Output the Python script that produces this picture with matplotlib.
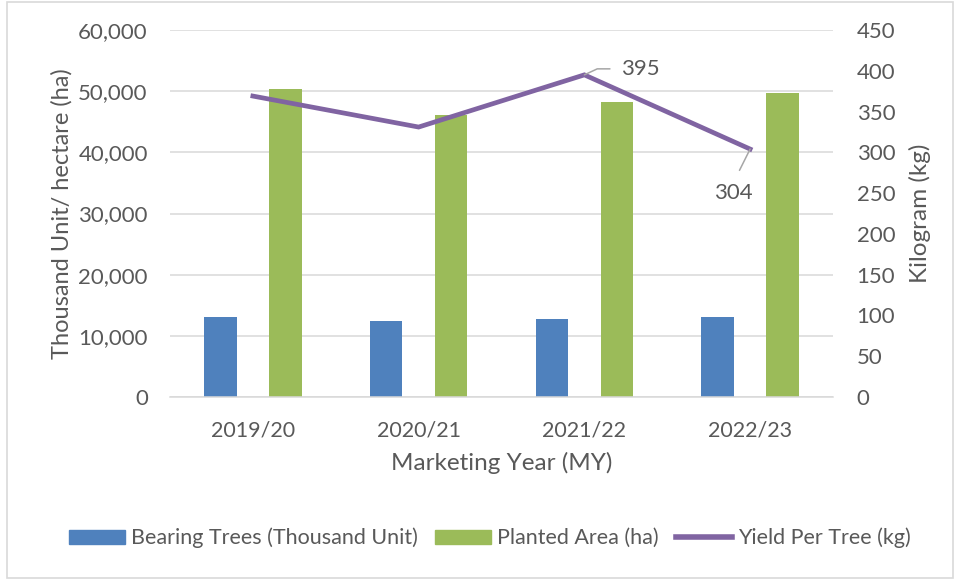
import matplotlib
matplotlib.use("Agg")
import matplotlib.pyplot as plt
import numpy as np
from matplotlib.ticker import FuncFormatter, MultipleLocator
from matplotlib.patches import Rectangle, Patch
from matplotlib.lines import Line2D

plt.rcParams['font.family'] = ['Lato', 'DejaVu Sans']

years = ["2019/20", "2020/21", "2021/22", "2022/23"]
bearing_trees = [13000, 12400, 12700, 13000]
planted_area = [50300, 46050, 48200, 49650]
yield_per_tree = [369, 331, 395, 304]

blue = "#4F81BD"
green = "#9BBB59"
purple = "#8064A2"
txt = "#595959"
grid = "#D9D9D9"

fig = plt.figure(figsize=(9.58, 5.80), dpi=100)
ax = fig.add_axes([170/958, 1-397/580, 663/958, 367/580])
ax2 = ax.twinx()

x = np.arange(len(years))
w = 0.196
ax.bar(x - w, bearing_trees, width=w, color=blue, zorder=2)
ax.bar(x + w, planted_area, width=w, color=green, zorder=2)
ax2.plot(x, yield_per_tree, color=purple, lw=3.4, solid_joinstyle='miter', zorder=3)

ax.set_xlim(-0.5, len(years) - 0.5)
ax.set_ylim(0, 60000)
ax2.set_ylim(0, 450)
ax.yaxis.set_major_locator(MultipleLocator(10000))
ax2.yaxis.set_major_locator(MultipleLocator(50))
ax.yaxis.set_major_formatter(FuncFormatter(lambda v, p: f"{int(v):,}"))
ax.grid(axis='y', color=grid, lw=1.1, zorder=0)
ax.set_axisbelow(True)
ax.set_xticks(x)
ax.set_xticklabels(years)

for a in (ax, ax2):
    for s in a.spines.values():
        s.set_visible(False)
ax.spines['bottom'].set_visible(True)
ax.spines['bottom'].set_color(grid)
ax.spines['bottom'].set_linewidth(1.1)

ax.tick_params(axis='y', length=0, pad=16, labelsize=16, labelcolor=txt)
ax.tick_params(axis='x', length=0, pad=17, labelsize=15.5, labelcolor=txt)
ax2.tick_params(axis='y', length=0, pad=17, labelsize=16, labelcolor=txt)

ax.set_xlabel("Marketing Year (MY)", fontsize=17.5, color=txt, labelpad=8)
ax.set_ylabel("Thousand Unit/ hectare (ha)", fontsize=17, color=txt, labelpad=4)
ax2.set_ylabel("Kilogram (kg)", fontsize=17.5, color=txt, labelpad=10)

# data labels
ax2.annotate(str(yield_per_tree[2]), xy=(x[2], yield_per_tree[2]), xytext=(56, 6),
             textcoords='offset pixels', ha='center', va='center', fontsize=16, color=txt,
             arrowprops=dict(arrowstyle='-', color='#A6A6A6', lw=1.1, relpos=(0, 0.5),
                             shrinkA=6, shrinkB=0,
                             connectionstyle='angle,angleA=0,angleB=25,rad=0'))
ax2.annotate(str(yield_per_tree[3]), xy=(x[3], yield_per_tree[3]), xytext=(-17, -44),
             textcoords='offset pixels', ha='center', va='center', fontsize=16, color=txt,
             arrowprops=dict(arrowstyle='-', color='#A6A6A6', lw=1.1, relpos=(0.5, 1),
                             shrinkA=8, shrinkB=0))

handles = [Patch(color=blue), Patch(color=green), Line2D([0], [0], color=purple, lw=4)]
labels = ["Bearing Trees (Thousand Unit)", "Planted Area (ha)", "Yield Per Tree (kg)"]
fig.legend(handles, labels, loc='center', bbox_to_anchor=(490/958, 1-538/580), ncol=3,
           frameon=False, fontsize=15.5, labelcolor=txt, handlelength=2.6, handleheight=0.65,
           handletextpad=0.3, columnspacing=0.78)

fig.patches.append(Rectangle((7/958, 2/580), 946/958, 576/580, transform=fig.transFigure,
                             fill=False, edgecolor='#D9D9D9', lw=1.2))

fig.savefig("out.png", dpi=100)
